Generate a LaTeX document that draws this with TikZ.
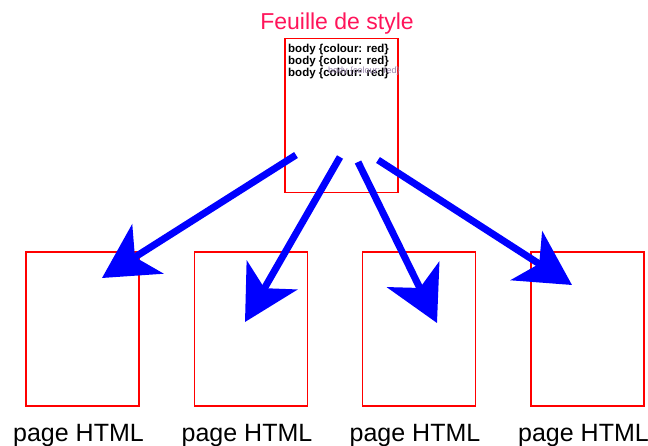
\documentclass[tikz,border=0pt]{standalone}
\usepackage{fontspec}
\setmainfont{Liberation Sans}
\usetikzlibrary{arrows.meta}
\definecolor{titrerouge}{RGB}{255,20,90}
\definecolor{fantome}{RGB}{150,130,170}

\begin{document}
\begin{tikzpicture}[x=1pt,y=-1pt,
    page/.style={draw=red,line width=1.5pt,minimum width=113pt,minimum height=154pt,inner sep=0pt},
    fleche/.style={draw=blue,line width=7pt,-{Stealth[length=54pt,width=58pt,inset=15pt]}},
    texte/.style={font=\fontsize{25}{28}\selectfont,anchor=base,inner sep=0pt},
    regle/.style={font=\fontsize{11.5}{12}\selectfont\bfseries,anchor=base west,inner sep=0pt}]
        \useasboundingbox (0,0) rectangle (648,446);
        \node[page] (css) at (341.5,115.5) {};
        \node[texte,font=\fontsize{23}{28}\selectfont,text=titrerouge] (titre) at (337,30) {Feuille de style};
        \foreach \i in {1,2,3}
          \node[regle] (regle\i) at (288,{41+12*\i}) {body \{colour: red\}};
        \node[regle,font=\fontsize{9}{10}\selectfont,text=fantome] (ombre) at (328,74) {body \{colour: red\}};
        \foreach \i/\x in {1/82.5,2/251,3/419,4/587.5}{
          \node[page] (page\i) at (\x,329) {};
          \node[texte] (nom\i) at (\x-4,441) {page HTML};
        }
        % les quatre fleches
        \draw[fleche] ([shift={(-45.5,39.5)}]css.center) -- ([shift={(19.5,-51)}]page1.center);
        \draw[fleche] ([shift={(-1.5,41.5)}]css.center) -- ([shift={(-6,-7)}]page2.center);
        \draw[fleche] ([shift={(16.5,46.5)}]css.center) -- ([shift={(18,-6)}]page3.center);
        \draw[fleche] ([shift={(36.5,44.5)}]css.center) -- ([shift={(-15.5,-44)}]page4.center);
      \end{tikzpicture}
\end{document}
